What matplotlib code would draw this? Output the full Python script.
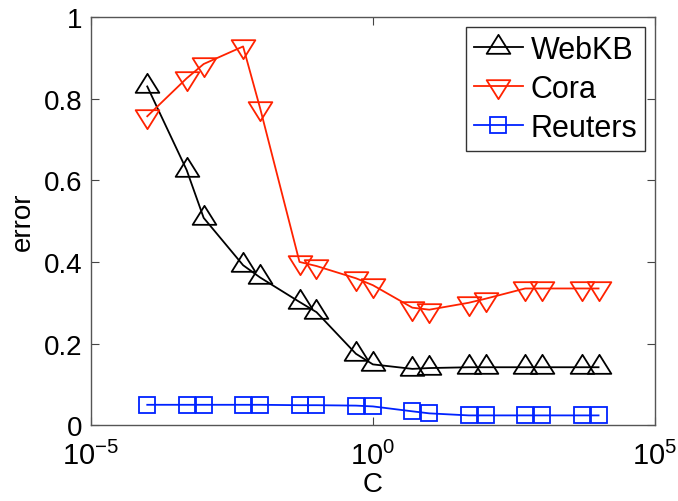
import matplotlib
matplotlib.use('Agg')
import matplotlib.pyplot as plt
import numpy as np
from matplotlib.path import Path
from matplotlib.ticker import FixedLocator, NullLocator, FuncFormatter

plt.rcParams['font.family'] = ['Liberation Sans', 'DejaVu Sans']
plt.rcParams['mathtext.fontset'] = 'custom'
plt.rcParams['mathtext.rm'] = 'Liberation Sans'
plt.rcParams['mathtext.it'] = 'Liberation Sans'
plt.rcParams['mathtext.sf'] = 'Liberation Sans'
plt.rcParams['font.size'] = 20

# values
C = [1e-4, 5e-4, 1e-3, 5e-3, 1e-2, 5e-2, 1e-1, 5e-1, 1,
     5, 10, 50, 100, 500, 1000, 5000, 10000]
webkb = [0.83, 0.625, 0.508, 0.392, 0.362, 0.302, 0.277, 0.175, 0.149,
         0.138, 0.140, 0.142, 0.142, 0.142, 0.142, 0.142, 0.142]
cora = [0.757, 0.850, 0.885, 0.928, 0.777, 0.400, 0.390, 0.360, 0.343,
        0.288, 0.283, 0.300, 0.310, 0.335, 0.335, 0.335, 0.335]
reuters = [0.050, 0.050, 0.050, 0.050, 0.050, 0.049, 0.049, 0.048, 0.046,
           0.034, 0.029, 0.024, 0.024, 0.024, 0.024, 0.024, 0.024]

xticks = [1e-5, 1e0, 1e5]
yticks = [0, 0.2, 0.4, 0.6, 0.8, 1.0]

# flattened triangles (MATLAB-like), centred on the centroid
tri_up = Path([(0, 1.067), (-1, -0.533), (1, -0.533), (0, 1.067)],
              [Path.MOVETO, Path.LINETO, Path.LINETO, Path.CLOSEPOLY])
tri_dn = Path([(0, -1.067), (-1, 0.533), (1, 0.533), (0, -1.067)],
              [Path.MOVETO, Path.LINETO, Path.LINETO, Path.CLOSEPOLY])

fig = plt.figure(figsize=(6.78, 5.02), dpi=100)
ax = fig.add_axes([0.134, 0.151, 0.832, 0.813])

lw = 1.3
ax.plot(C, webkb, color='black', lw=lw, marker=tri_up, ms=18.2,
        mfc='none', mec='black', mew=lw, label='WebKB')
ax.plot(C, cora, color='#ff2200', lw=lw, marker=tri_dn, ms=18.2,
        mfc='none', mec='#ff2200', mew=lw, label='Cora')
ax.plot(C, reuters, color='#0022ff', lw=lw, marker='s', ms=11.3,
        mfc='none', mec='#0022ff', mew=lw, label='Reuters')

ax.set_xscale('log')
ax.set_xlim(1e-5, 1e5)
ax.set_ylim(0, 1)
ax.xaxis.set_major_locator(FixedLocator(xticks))
ax.xaxis.set_minor_locator(NullLocator())
ax.xaxis.set_major_formatter(
    FuncFormatter(lambda v, p: r'$\mathregular{10^{%d}}$' % round(np.log10(v))))
ax.set_yticks(yticks)
ax.yaxis.set_major_formatter(FuncFormatter(lambda v, p: '%g' % v))
ax.tick_params(direction='in', length=6, width=0.8, top=True, right=True,
               labelsize=20, pad=6, color='#444444')
ax.tick_params(axis='x', labelsize=21, pad=11)
for s in ax.spines.values():
    s.set_color('#555555')
    s.set_linewidth(1.0)

ax.set_xlabel('C', fontsize=20, labelpad=1)
ax.set_ylabel('error', fontsize=20, labelpad=6)

leg = ax.legend(loc='upper right', fontsize=22, frameon=True, fancybox=False,
                edgecolor='black', handlelength=1.6, handletextpad=0.26,
                borderpad=0.25, labelspacing=0.3, borderaxespad=0.33)
leg.get_frame().set_linewidth(1.0)

fig.savefig('out.png', dpi=100)
